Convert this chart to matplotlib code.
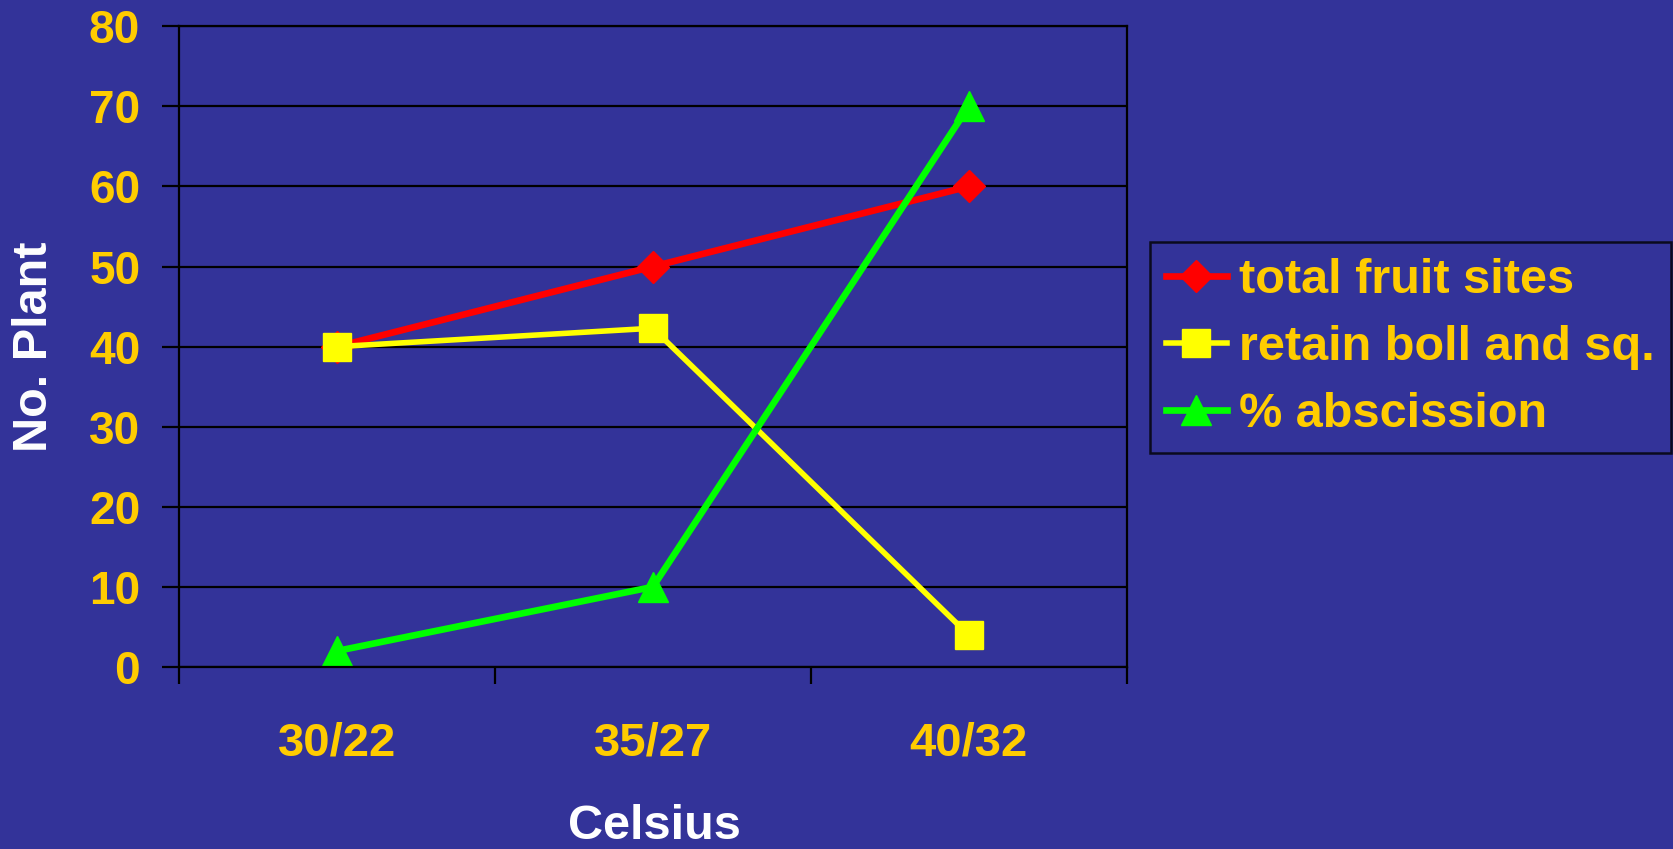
import numpy as np
import matplotlib.pyplot as plt

# data
temps = ['30/22', '35/27', '40/32']
total_fruit = [40, 50, 60]
retain_boll = [40, 42.3, 4]
abscission = [2, 10, 70]
y_ticks = [0, 10, 20, 30, 40, 50, 60, 70, 80]

bg = '#333399'
gold = '#FFCC00'
plt.rcParams['font.family'] = ['Liberation Sans', 'DejaVu Sans']
plt.rcParams['font.weight'] = 'bold'

fig = plt.figure(figsize=(16.74, 8.49), dpi=100, facecolor=bg)
ax = fig.add_axes([0.107, 0.2144, 0.566, 0.7546], facecolor=bg)

x = np.arange(len(temps))
ax.plot(x, total_fruit, color='#FF0000', lw=4.8, marker='D', ms=16,
        label='total fruit sites')
ax.plot(x, retain_boll, color='#FFFF00', lw=4.0, marker='s', ms=20,
        label='retain boll and sq.')
ax.plot(x, abscission, color='#00FF00', lw=4.8, marker='^', ms=22,
        label='% abscission')

ax.set_xlim(-0.5, len(temps) - 0.5)
ax.set_ylim(0, 80)
ax.set_yticks(y_ticks)
ax.grid(axis='y', color='black', lw=1.6)
ax.set_axisbelow(True)
for s in ax.spines.values():
    s.set_color('black')
    s.set_linewidth(1.6)

ax.set_xticks(x)
ax.set_xticklabels(temps)
ax.set_xticks(np.arange(len(temps) + 1) - 0.5, minor=True)
ax.tick_params(axis='x', which='major', length=0, pad=39, labelsize=34,
               labelcolor=gold)
ax.tick_params(axis='x', which='minor', length=12, width=1.6, color='black')
ax.tick_params(axis='y', length=12, width=1.6, color='black', pad=16,
               labelsize=33, labelcolor=gold)

fig.text(0.0205, 0.592, 'No. Plant', rotation=90, color='white', fontsize=35,
         fontweight='bold', ha='center', va='center')
fig.text(0.391, 0.026, 'Celsius', color='white', fontsize=35,
         fontweight='bold', ha='center', va='center')

leg = fig.legend(loc='upper left', bbox_to_anchor=(0.687, 0.715),
                 fontsize=35, frameon=True, facecolor=bg, edgecolor='black',
                 fancybox=False, handlelength=1.25, handletextpad=0.25,
                 labelspacing=0.45, borderpad=0.33, borderaxespad=0)
leg.get_frame().set_linewidth(1.8)
for t in leg.get_texts():
    t.set_color(gold)

fig.savefig('out.png', dpi=100, facecolor=bg)
